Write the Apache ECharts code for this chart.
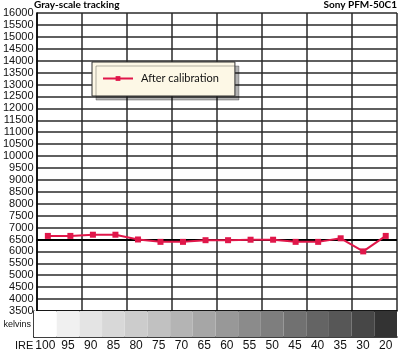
<!DOCTYPE html>
<html>
<head>
<meta charset="utf-8">
<script src="https://cdn.jsdelivr.net/npm/echarts@6/dist/echarts.min.js"></script>
<style>
  html, body { margin: 0; padding: 0; background: #fff; }
  #chart { width: 400px; height: 353px; }
</style>
</head>
<body>
<div id="chart"></div>
<script>
// IRE steps along the bottom
const ireLevels = ["100", "95", "90", "85", "80", "75", "70", "65", "60", "55", "50", "45", "40", "35", "30", "20"];
// colour temperature after calibration (kelvins)
const afterCalibration = [6650, 6650, 6700, 6700, 6500, 6400, 6400, 6470, 6470, 6490, 6490, 6400, 6400, 6550, 6000, 6650];
// grey patch shade for each IRE step
const stripShades = ["#ffffff", "#f0f0f0", "#e4e4e4", "#d8d8d8", "#cccccc", "#c1c1c1", "#b4b4b4", "#a6a6a6",
  "#989898", "#8b8b8b", "#7e7e7e", "#717171", "#646464", "#575757", "#474747", "#333333"];
const targetKelvin = 6500;

const chart = echarts.init(document.getElementById("chart"));

const gridLine = { color: "#2a2a2a", width: 1.5 };

chart.setOption({
  animation: false,
  textStyle: { fontFamily: "Liberation Sans, Arial, sans-serif" },
  title: [
    {
      text: "Gray-scale tracking",
      left: 34, top: 0, padding: 0,
      textStyle: { fontFamily: "Lato", fontWeight: "bold", fontSize: 10, color: "#000" }
    },
    {
      text: "Sony PFM-50C1",
      right: 3, top: 0, padding: 0,
      textStyle: { fontFamily: "Lato", fontWeight: "bold", fontSize: 10, color: "#000" }
    }
  ],
  legend: {
    left: 92, top: 62,
    orient: "horizontal",
    padding: [11, 16, 12, 10],
    backgroundColor: "#fdf8e6",
    borderColor: "#333",
    borderWidth: 1,
    shadowColor: "rgba(0,0,0,0.3)",
    shadowOffsetX: 4,
    shadowOffsetY: 4,
    shadowBlur: 0,
    itemWidth: 30,
    itemHeight: 6,
    textStyle: { fontFamily: "Lato", fontSize: 11, color: "#111", padding: [0, 0, 0, 3] },
    data: ["After calibration"]
  },
  grid: [
    { left: 34, top: 13, width: 363, height: 298, containLabel: false },
    { left: 34, top: 311, width: 363, height: 26, containLabel: false }
  ],
  xAxis: [
    {
      gridIndex: 0,
      type: "category",
      data: ireLevels,
      boundaryGap: true,
      axisLine: { show: true, lineStyle: { color: "#000", width: 1.5 } },
      axisTick: { show: false },
      axisLabel: { show: false },
      splitLine: { show: true, lineStyle: gridLine }
    },
    {
      gridIndex: 1,
      type: "category",
      data: ireLevels,
      boundaryGap: true,
      axisLine: { show: true, lineStyle: { color: "#000", width: 1.5 } },
      axisTick: { show: false },
      axisLabel: { fontSize: 12, color: "#111", margin: 3, interval: 0 },
      splitLine: { show: false }
    }
  ],
  yAxis: [
    {
      gridIndex: 0,
      type: "value",
      min: 3500, max: 16000, interval: 500,
      axisLine: { show: true, lineStyle: { color: "#000", width: 1.5 } },
      axisTick: { show: false },
      axisLabel: { fontSize: 11, color: "#111", margin: 3, formatter: v => String(v) },
      splitLine: { show: true, lineStyle: gridLine }
    },
    {
      gridIndex: 1,
      type: "value",
      min: 0, max: 1,
      axisLine: { show: true, lineStyle: { color: "#000", width: 1.5 } },
      axisTick: { show: false },
      axisLabel: { show: false },
      splitLine: { show: false }
    }
  ],
  series: [
    {
      name: "After calibration",
      type: "line",
      xAxisIndex: 0, yAxisIndex: 0,
      data: afterCalibration,
      symbol: "rect",
      symbolSize: 6,
      lineStyle: { color: "#e0174a", width: 2 },
      itemStyle: { color: "#e0174a" },
      markLine: {
        silent: true,
        symbol: "none",
        label: { show: false },
        lineStyle: { color: "#000", width: 2, type: "solid" },
        data: [{ yAxis: targetKelvin }]
      },
      z: 5
    },
    {
      name: "shade",
      type: "bar",
      xAxisIndex: 1, yAxisIndex: 1,
      barWidth: "100%",
      data: stripShades.map(c => ({ value: 1, itemStyle: { color: c } })),
      silent: true
    }
  ],
  graphic: [
    {
      type: "text", right: 369, top: 320,
      style: { text: "kelvins", fontSize: 9, fill: "#111", fontFamily: "Liberation Sans, Arial, sans-serif" }
    },
    {
      type: "text", left: 15, top: 340,
      style: { text: "IRE", fontSize: 11, fill: "#111", fontFamily: "Liberation Sans, Arial, sans-serif" }
    }
  ]
});
</script>
</body>
</html>
